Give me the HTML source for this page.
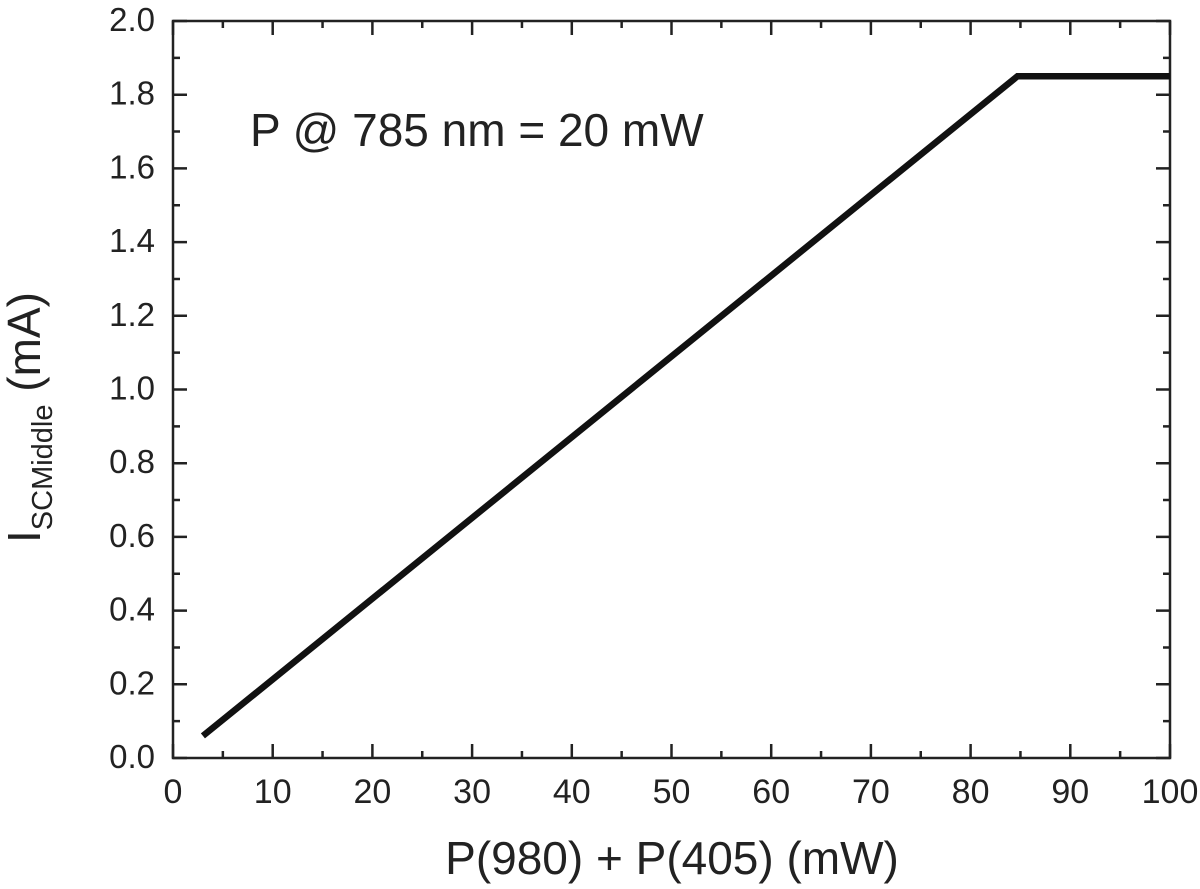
<!DOCTYPE html>
<html><head><meta charset="utf-8"><style>
html,body{margin:0;padding:0;background:#fff}
svg{display:block;font-family:"Liberation Sans",Arial,sans-serif}
</style></head><body>
<svg id="chart" width="1200" height="889" viewBox="0 0 1200 889" xmlns="http://www.w3.org/2000/svg">
<g id="axes"></g>
<polyline id="series" fill="none" stroke="#111" stroke-width="6.5" stroke-linejoin="miter"/>
<text x="250" y="146" font-size="46" fill="#222">P @ 785 nm = 20 mW</text>
<text x="672" y="874" font-size="46" fill="#222" text-anchor="middle">P(980) + P(405) (mW)</text>
<text transform="translate(40,543) rotate(-90)" font-size="46" fill="#222">I<tspan font-size="29" dy="12">SCMiddle</tspan><tspan dy="-12"> (mA)</tspan></text>
</svg>
<script>
const xs = [3, 84.7, 100];
const ys = [0.06, 1.85, 1.85];
const xTicks = [0,10,20,30,40,50,60,70,80,90,100];
const yTicks = ["0.0","0.2","0.4","0.6","0.8","1.0","1.2","1.4","1.6","1.8","2.0"];
const L=173,R=1170,T=21,B=758;
const sx=v=>L+(v-0)/(100-0)*(R-L);
const sy=v=>B-(v-0)/(2-0)*(B-T);
const NS="http://www.w3.org/2000/svg";
const g=document.getElementById('axes');
function mk(tag,attrs){const e=document.createElementNS(NS,tag);for(const k in attrs)e.setAttribute(k,attrs[k]);return e;}
const frame=mk('rect',{x:L,y:T,width:R-L,height:B-T,fill:'none',stroke:'#222','stroke-width':2.5});


g.appendChild(frame);
xTicks.forEach((v,i)=>{
  const x=sx(v);
  const t=mk('path',{d:`M${x},${B}v-14M${x},${T}v14`,stroke:'#222','stroke-width':2.5});
  
  
  g.appendChild(t);
  if(i<xTicks.length-1){const xm=sx(v+5);
    const m=mk('path',{d:`M${xm},${B}v-7M${xm},${T}v7`,stroke:'#222','stroke-width':2.5});
    
    
    g.appendChild(m);}
  const lb=mk('text',{x:x,y:B+45,'font-size':34,'text-anchor':'middle',fill:'#222'});
  lb.textContent=v;
  
  
  g.appendChild(lb);
});
yTicks.forEach((s,i)=>{
  const v=parseFloat(s),y=sy(v);
  const t=mk('path',{d:`M${L},${y}h14M${R},${y}h-14`,stroke:'#222','stroke-width':2.5});
  
  
  g.appendChild(t);
  if(i<yTicks.length-1){const ym=sy(v+0.1);
    const m=mk('path',{d:`M${L},${ym}h7M${R},${ym}h-7`,stroke:'#222','stroke-width':2.5});
    
    
    g.appendChild(m);}
  const lb=mk('text',{x:L-18,y:y+10,'font-size':33,'text-anchor':'end',fill:'#222'});
  lb.textContent=s;
  
  
  g.appendChild(lb);
});
document.getElementById('series').setAttribute('points',xs.map((x,i)=>sx(x)+','+sy(ys[i])).join(' '));
</script>
</body></html>
